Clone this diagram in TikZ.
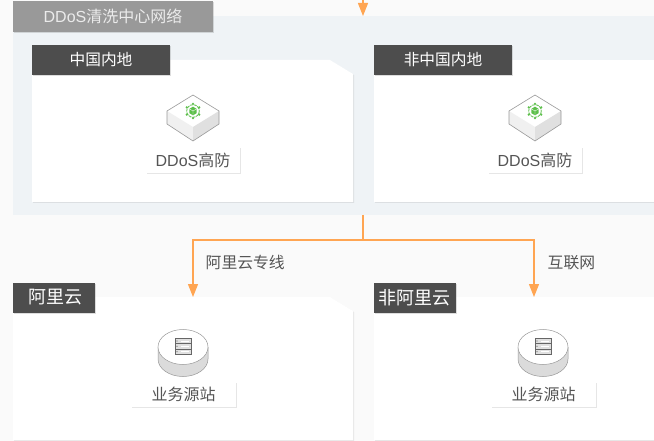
\documentclass[tikz,border=0pt]{standalone}
\usepackage{fontspec}
\setmainfont{Liberation Sans}
\newfontfamily\cjk{Noto Sans CJK SC}
\usetikzlibrary{arrows.meta,shadows}
\definecolor{pagegray}{HTML}{FAFAFA}
\definecolor{panelblue}{HTML}{EFF3F6}
\definecolor{tabdark}{HTML}{4D4D4D}
\definecolor{tablight}{HTML}{999999}
\definecolor{linkorange}{HTML}{FFA552}
\definecolor{textgray}{HTML}{555555}
\definecolor{icongreen}{HTML}{5CBF4A}
\tikzset{
  softshadow/.style={drop shadow={shadow xshift=1pt,shadow yshift=-1pt,opacity=.22,fill=black!60}},
  cardbox/.style={fill=white,drop shadow={shadow xshift=1pt,shadow yshift=-1pt,opacity=.08,fill=black}},
  tabbox/.style={fill=tabdark,text=white,inner sep=0pt,outer sep=0pt,minimum height=30pt,softshadow},
  titlebox/.style={fill=tablight,text=white!92!black,inner sep=0pt,outer sep=0pt,minimum width=200pt,minimum height=31pt,softshadow,font=\fontsize{16}{19}\selectfont},
  labelbox/.style={fill=white,text=textgray,inner sep=0pt,outer sep=0pt,minimum height=26pt,drop shadow={shadow xshift=1pt,shadow yshift=-1pt,opacity=.16,fill=black!60},font=\fontsize{16}{19}\selectfont},
  linktext/.style={text=textgray,inner sep=0pt,font=\fontsize{15.8}{18}\selectfont},
  link/.style={draw=linkorange,line width=1.2pt},
  arrowlink/.style={link,-{Triangle[length=13pt,width=10pt]}},
  pics/guard/.style={code={
    \fill [white] (0,-16) -- (26,0) -- (0,16) -- (-26,0) -- cycle;
    \fill [black!6] (-26,0) -- (0,16) -- (0,30) -- (-26,13) -- cycle;
    \fill [black!12] (26,0) -- (0,16) -- (0,30) -- (26,13) -- cycle;
    \draw [black!40,line width=.6pt,line join=round] (0,-16) -- (26,0) -- (26,13) -- (0,30) -- (-26,13) -- (-26,0) -- cycle;
    \draw [icongreen,line width=.8pt,dash pattern=on 3pt off .8pt] (0,0) circle (6.3);
    \foreach \a in {30,90,...,330}
      \fill [icongreen] (\a:7.2) circle (1.2);
    \fill [icongreen] (0,-4.3) -- (3.7,-2.1) -- (3.7,2.1) -- (0,4.3) -- (-3.7,2.1) -- (-3.7,-2.1) -- cycle;
    \draw [white,line width=.35pt] (-3.7,-2.1) -- (0,0) -- (3.7,-2.1) (0,0) -- (0,4.3);
  }},
  pics/origin/.style={code={
    \fill [black!14] (-25,-6) -- (-25,6) arc (180:0:25 and 17.5) -- (25,-6) -- cycle;
    \draw [black!40,line width=.5pt] (-25,-6) -- (-25,6) arc (180:0:25 and 17.5) -- (25,-6);
    \fill [white] (0,-6) ellipse (25 and 17.5);
    \draw [black!40,line width=.5pt] (0,-6) ellipse (25 and 17.5);
    \draw [black!60,line width=.8pt,fill=black!12] (-8,-14.5) rectangle (8,1.5);
    \foreach \y in {-9.5,-4}
      \draw [black!60,line width=.6pt] (-8,\y) -- (8,\y);
    \foreach \y in {-12,-6.7,-1.2}{
      \fill [black!60] (-6,\y) circle (.6);
      \draw [white,line width=.7pt] (-2,\y) -- (6,\y);
    }
  }}
}
\newcommand{\cardpath}[4]{\path [cardbox] (#1,#3) -- (#2-23,#3) -- (#2,#3+14) -- (#2,#4) -- (#1,#4) -- cycle;}
\begin{document}
\begin{tikzpicture}[x=1pt,y=-1pt]
\useasboundingbox (0,0) rectangle (654,441);
\fill [pagegray] (0,0) rectangle (654,441);

% cleaning network
\node [fill=panelblue,inner sep=0pt,outer sep=0pt,minimum width=641pt,minimum height=199pt] (net) at (333.5,115.5) {};
\coordinate (entry) at (363,-2);
\draw [arrowlink] (entry) -- (entry |- net.north);
\node [titlebox] (nettitle) at (113,16.5) {DDoS{\cjk 清洗中心网络}};

% regions
\cardpath{32}{353}{60}{202}
\path [cardbox] (374,60) -- (660,60) -- (660,202) -- (374,202) -- cycle;
\node [tabbox,minimum width=138pt,font=\fontsize{15.7}{18}\selectfont] (maintab) at (101,60) {\cjk 中国内地};
\node [tabbox,minimum width=138pt,font=\fontsize{15.7}{18}\selectfont] (othertab) at (443,60) {\cjk 非中国内地};

\pic at (193,111) {guard};
\pic at (535,111) {guard};
\node [labelbox,minimum width=94pt] (mainguard) at (193,160) {DDoS{\cjk 高防}};
\node [labelbox,minimum width=94pt] (otherguard) at (535,160) {DDoS{\cjk 高防}};

% lower clouds
\cardpath{13}{353}{297}{440}
\path [cardbox] (374,297) -- (660,297) -- (660,440) -- (374,440) -- cycle;
\coordinate (alitop) at (193,297);
\coordinate (nettop) at (534,297);
\coordinate (split) at (363,240);

\draw [link] (net.south -| split) -- (split);
\draw [arrowlink] (split) -| (alitop);
\draw [arrowlink] (split) -| (nettop);

\node [linktext,anchor=west] (leasedtext) at (205.5,263) {\cjk 阿里云专线};
\node [linktext,anchor=west] (webtext) at (547.5,263) {\cjk 互联网};

\node [tabbox,minimum width=82pt,font=\fontsize{18}{21}\selectfont] (alitab) at (54,297.5) {\hspace{2pt}\cjk 阿里云};
\node [tabbox,minimum width=82pt,font=\fontsize{18}{21}\selectfont] (nonalitab) at (414.5,297.5) {\cjk 非阿里云};

\pic at (183,353) {origin};
\pic at (543,353) {origin};
\node [labelbox,minimum width=105pt,minimum height=25pt] (alisite) at (183.5,394.5) {\cjk 业务源站};
\node [labelbox,minimum width=105pt,minimum height=25pt] (nonalisite) at (543.5,394.5) {\cjk 业务源站};
\end{tikzpicture}
\end{document}
